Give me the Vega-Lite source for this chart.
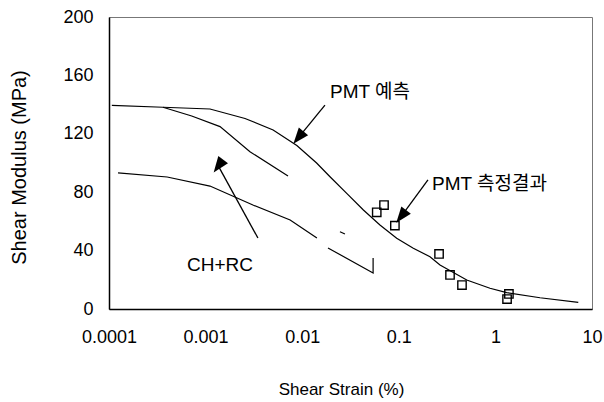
{
  "$schema": "https://vega.github.io/schema/vega-lite/v6.json",
  "width": 483,
  "height": 292,
  "autosize": {"type": "none"},
  "padding": {"left": 109, "top": 17, "right": 12, "bottom": 93},
  "background": "white",
  "config": {
    "view": {"stroke": "#777", "strokeWidth": 1},
    "font": "Liberation Sans"
  },
  "datasets": {
    "curves": [
      {"series": "pred", "i": 1, "strain": 0.000107, "modulus": 139.5},
      {"series": "pred", "i": 2, "strain": 0.000362, "modulus": 138.2},
      {"series": "pred", "i": 3, "strain": 0.00111, "modulus": 137},
      {"series": "pred", "i": 4, "strain": 0.00256, "modulus": 130.5},
      {"series": "pred", "i": 5, "strain": 0.005, "modulus": 122.6},
      {"series": "pred", "i": 6, "strain": 0.0088, "modulus": 112},
      {"series": "pred", "i": 7, "strain": 0.0141, "modulus": 100},
      {"series": "pred", "i": 8, "strain": 0.0194, "modulus": 90.6},
      {"series": "pred", "i": 9, "strain": 0.0289, "modulus": 79.2},
      {"series": "pred", "i": 10, "strain": 0.043, "modulus": 67.8},
      {"series": "pred", "i": 11, "strain": 0.0638, "modulus": 57.5},
      {"series": "pred", "i": 12, "strain": 0.0951, "modulus": 48.4},
      {"series": "pred", "i": 13, "strain": 0.1413, "modulus": 41.6},
      {"series": "pred", "i": 14, "strain": 0.2104, "modulus": 35.8},
      {"series": "pred", "i": 15, "strain": 0.267, "modulus": 30.1},
      {"series": "pred", "i": 16, "strain": 0.505, "modulus": 19.9},
      {"series": "pred", "i": 17, "strain": 0.879, "modulus": 14.2},
      {"series": "pred", "i": 18, "strain": 1.309, "modulus": 11.2},
      {"series": "pred", "i": 19, "strain": 2.897, "modulus": 7.7},
      {"series": "pred", "i": 20, "strain": 7.21, "modulus": 4.6},
      {"series": "upper", "i": 1, "strain": 0.000362, "modulus": 138.2},
      {"series": "upper", "i": 2, "strain": 0.000718, "modulus": 132.2},
      {"series": "upper", "i": 3, "strain": 0.00141, "modulus": 124.9},
      {"series": "upper", "i": 4, "strain": 0.00288, "modulus": 107.7},
      {"series": "upper", "i": 5, "strain": 0.00713, "modulus": 91.1},
      {"series": "lowerA", "i": 1, "strain": 0.000124, "modulus": 93.2},
      {"series": "lowerA", "i": 2, "strain": 0.0004, "modulus": 90.4},
      {"series": "lowerA", "i": 3, "strain": 0.00111, "modulus": 84.2},
      {"series": "lowerA", "i": 4, "strain": 0.00309, "modulus": 71.2},
      {"series": "lowerA", "i": 5, "strain": 0.0075, "modulus": 61},
      {"series": "lowerA", "i": 6, "strain": 0.0142, "modulus": 48.6},
      {"series": "frag", "i": 1, "strain": 0.0246, "modulus": 52.9},
      {"series": "frag", "i": 2, "strain": 0.0277, "modulus": 51.4},
      {"series": "lowerB", "i": 1, "strain": 0.0185, "modulus": 41.8},
      {"series": "lowerB", "i": 2, "strain": 0.0542, "modulus": 24.7},
      {"series": "lowerB", "i": 3, "strain": 0.0542, "modulus": 34.9}
    ],
    "measured": [
      {"strain": 0.0591, "modulus": 66.2},
      {"strain": 0.0703, "modulus": 71.2},
      {"strain": 0.0911, "modulus": 57.1},
      {"strain": 0.261, "modulus": 37.7},
      {"strain": 0.339, "modulus": 23.3},
      {"strain": 0.451, "modulus": 16.4},
      {"strain": 1.32, "modulus": 6.8},
      {"strain": 1.38, "modulus": 10.3}
    ],
    "arrows": [
      {"arrow": "pred", "strain": 0.0172, "modulus": 139.7, "strain2": 0.00914, "modulus2": 117.4},
      {"arrow": "meas", "strain": 0.2004, "modulus": 88.4, "strain2": 0.1059, "modulus2": 63.4},
      {"arrow": "chrc", "strain": 0.00348, "modulus": 48.6, "strain2": 0.001357, "modulus2": 97.9}
    ],
    "labels": [
      {"label": "PMT 예측", "strain": 0.0194, "modulus": 144.5},
      {"label": "PMT 측정결과", "strain": 0.2208, "modulus": 81.5},
      {"label": "CH+RC", "strain": 0.000641, "modulus": 26.0}
    ]
  },
  "layer": [
    {
      "data": {"name": "curves"},
      "mark": {"type": "line", "color": "black"},
      "encoding": {
        "x": {
          "field": "strain", "type": "quantitative",
          "scale": {"type": "log", "domain": [0.0001, 10]},
          "axis": {
            "title": "Shear Strain (%)",
            "values": [0.0001, 0.001, 0.01, 0.1, 1, 10],
            "format": "~g",
            "grid": false, "ticks": false,
            "domainColor": "black", "domainWidth": 1.5,
            "labelFont": "Liberation Sans", "labelFontSize": 18, "labelColor": "black",
            "labelPadding": 19, "labelFlush": false, "labelOverlap": false,
            "titleFont": "Liberation Sans", "titleFontSize": 17, "titleFontWeight": "normal", "titleColor": "black",
            "titleX": 232, "titleY": 85, "titleAlign": "center", "titleBaseline": "alphabetic"
          }
        },
        "y": {
          "field": "modulus", "type": "quantitative",
          "scale": {"domain": [0, 200]},
          "axis": {
            "title": "Shear Modulus (MPa)",
            "values": [0, 40, 80, 120, 160, 200],
            "grid": false, "ticks": false,
            "domainColor": "black", "domainWidth": 1.5,
            "labelFont": "Liberation Sans", "labelFontSize": 18, "labelColor": "black",
            "labelPadding": 16, "labelFlush": false, "labelOverlap": false,
            "titleFont": "Liberation Sans", "titleFontSize": 20, "titleFontWeight": "normal", "titleColor": "black",
            "titleAngle": 270, "titleX": -84, "titleY": 150, "titleAlign": "center", "titleBaseline": "alphabetic"
          }
        },
        "detail": {"field": "series"},
        "strokeWidth": {"field": "series", "type": "nominal", "scale": {"domain": ["pred", "upper", "lowerA", "frag", "lowerB"], "range": [1.2, 1.2, 1.2, 1.2, 2]}, "legend": null},
        "order": {"field": "i", "type": "quantitative"}
      }
    },
    {
      "data": {"name": "measured"},
      "mark": {"type": "point", "shape": "square", "size": 70, "filled": false, "color": "black", "strokeWidth": 1.4, "opacity": 1},
      "encoding": {
        "x": {"field": "strain", "type": "quantitative", "scale": {"type": "log", "domain": [0.0001, 10]}},
        "y": {"field": "modulus", "type": "quantitative", "scale": {"domain": [0, 200]}}
      }
    },
    {
      "data": {"name": "arrows"},
      "mark": {"type": "rule", "color": "black", "strokeWidth": 1.3},
      "encoding": {
        "x": {"field": "strain", "type": "quantitative", "scale": {"type": "log", "domain": [0.0001, 10]}},
        "y": {"field": "modulus", "type": "quantitative", "scale": {"domain": [0, 200]}},
        "x2": {"field": "strain2"},
        "y2": {"field": "modulus2"}
      }
    },
    {
      "data": {"name": "arrows"},
      "mark": {"type": "point", "shape": "M0,-1L-0.75,1L0.75,1Z", "size": 256, "filled": true, "color": "black", "opacity": 1},
      "encoding": {
        "x": {"field": "strain2", "type": "quantitative", "scale": {"type": "log", "domain": [0.0001, 10]}},
        "y": {"field": "modulus2", "type": "quantitative", "scale": {"domain": [0, 200]}},
        "angle": {"field": "arrow", "type": "nominal", "scale": {"domain": ["pred", "meas", "chrc"], "range": [219.2, 216.4, 331]}, "legend": null}
      }
    },
    {
      "data": {"name": "labels"},
      "mark": {"type": "text", "align": "left", "baseline": "alphabetic", "font": "Liberation Sans, Noto Sans CJK KR", "fontSize": 19, "color": "black"},
      "encoding": {
        "x": {"field": "strain", "type": "quantitative", "scale": {"type": "log", "domain": [0.0001, 10]}},
        "y": {"field": "modulus", "type": "quantitative", "scale": {"domain": [0, 200]}},
        "text": {"field": "label"}
      }
    }
  ]
}
